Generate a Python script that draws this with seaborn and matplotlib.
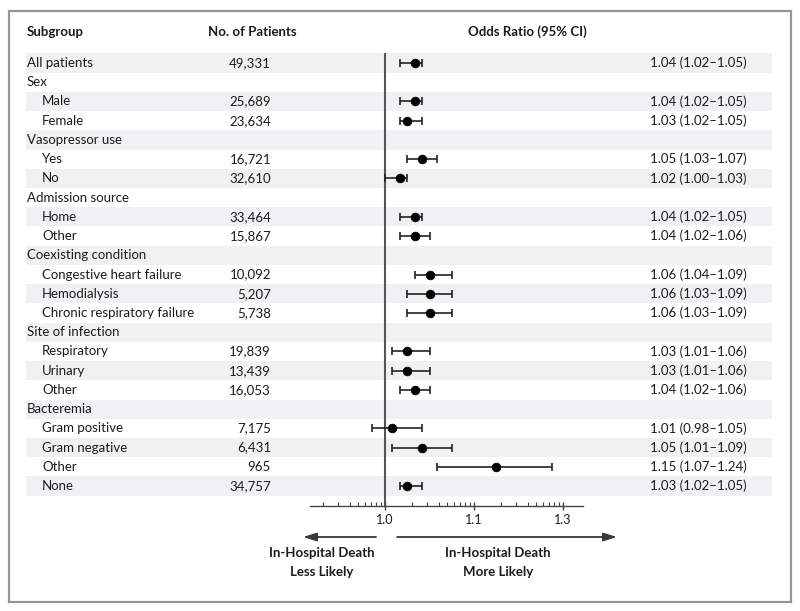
import numpy as np
import pandas as pd
import matplotlib
matplotlib.use("Agg")
import matplotlib.pyplot as plt
from matplotlib.patches import Rectangle
import seaborn as sns

# ---------------- data ----------------
subgroups = ["All patients", "Sex", "Male", "Female", "Vasopressor use", "Yes", "No",
             "Admission source", "Home", "Other", "Coexisting condition",
             "Congestive heart failure", "Hemodialysis", "Chronic respiratory failure",
             "Site of infection", "Respiratory", "Urinary", "Other", "Bacteremia",
             "Gram positive", "Gram negative", "Other", "None"]
indented = [0, 0, 1, 1, 0, 1, 1, 0, 1, 1, 0, 1, 1, 1, 0, 1, 1, 1, 0, 1, 1, 1, 1]
patients = ["49,331", "", "25,689", "23,634", "", "16,721", "32,610", "", "33,464", "15,867",
            "", "10,092", "5,207", "5,738", "", "19,839", "13,439", "16,053", "",
            "7,175", "6,431", "965", "34,757"]
odds = [1.04, None, 1.04, 1.03, None, 1.05, 1.02, None, 1.04, 1.04, None, 1.06, 1.06, 1.06,
        None, 1.03, 1.03, 1.04, None, 1.01, 1.05, 1.15, 1.03]
ci_low = [1.02, None, 1.02, 1.02, None, 1.03, 1.00, None, 1.02, 1.02, None, 1.04, 1.03, 1.03,
          None, 1.01, 1.01, 1.02, None, 0.98, 1.01, 1.07, 1.02]
ci_high = [1.05, None, 1.05, 1.05, None, 1.07, 1.03, None, 1.05, 1.06, None, 1.09, 1.09, 1.09,
           None, 1.06, 1.06, 1.06, None, 1.05, 1.09, 1.24, 1.05]
tick_values = [1.0, 1.1, 1.3]
tick_labels = ["1.0", "1.1", "1.3"]

# ---------------- style ----------------
sns.set_style("white")
plt.rcParams["font.family"] = ["Lato", "DejaVu Sans"]
TXT = "#1e1b1c"
BAND = "#f0f1f3"
FS = 9.5

W, H = 800, 611
fig = plt.figure(figsize=(W / 100, H / 100), dpi=100)

# background axes in pixel units
bg = fig.add_axes([0, 0, 1, 1])
bg.set_xlim(0, W)
bg.set_ylim(H, 0)
bg.axis("off")

ROW0, ROWH = 63.0, 19.23
AX_L, AX_R, AX_B = 310, 583, 506
AX_T = ROW0 - ROWH / 2

n = len(subgroups)
for i in range(n):
    yc = ROW0 + ROWH * i
    if i % 2 == 0:
        bg.add_patch(Rectangle((26, yc - ROWH / 2), 772 - 26, ROWH, facecolor=BAND,
                               edgecolor="none", zorder=0))
    bg.text(42 if indented[i] else 27, yc, subgroups[i], ha="left", va="center",
            fontsize=FS, color=TXT)
    if patients[i]:
        bg.text(271, yc, patients[i], ha="right", va="center", fontsize=FS, color=TXT)
    if odds[i] is not None:
        bg.text(747, yc, f"{odds[i]:.2f} ({ci_low[i]:.2f}\u2013{ci_high[i]:.2f})",
                ha="right", va="center", fontsize=FS, color=TXT)

# headers
bg.text(27, 32, "Subgroup", ha="left", va="center", fontsize=FS, fontweight="bold", color=TXT)
bg.text(252, 32, "No. of Patients", ha="center", va="center", fontsize=FS, fontweight="bold", color=TXT)
bg.text(527, 32, "Odds Ratio (95% CI)", ha="center", va="center", fontsize=FS, fontweight="bold", color=TXT)

# frame
bg.add_patch(Rectangle((8.5, 10.5), 782, 591, facecolor="none", edgecolor="#949494", lw=1.6, zorder=5))

# arrows and labels
arrow_kw = dict(arrowstyle="-|>,head_length=0.8,head_width=0.25", color="#3a3a3a", lw=1.3,
                shrinkA=0, shrinkB=0)
bg.annotate("", xy=(303, 537), xytext=(376, 537), arrowprops=arrow_kw)
bg.annotate("", xy=(617, 537), xytext=(397, 537), arrowprops=arrow_kw)
bg.text(322, 553, "In-Hospital Death", ha="center", va="center", fontsize=FS, fontweight="bold", color=TXT)
bg.text(322, 572, "Less Likely", ha="center", va="center", fontsize=FS, fontweight="bold", color=TXT)
bg.text(498, 553, "In-Hospital Death", ha="center", va="center", fontsize=FS, fontweight="bold", color=TXT)
bg.text(498, 572, "More Likely", ha="center", va="center", fontsize=FS, fontweight="bold", color=TXT)

# ---------------- forest axes ----------------
ax = fig.add_axes([AX_L / W, (H - AX_B) / H, (AX_R - AX_L) / W, (AX_B - AX_T) / H])
ax.patch.set_alpha(0)

# custom axis scale (as drawn in the original figure: 1.0, 1.1, 1.3 equally spaced)
KV = np.array([0.80, 0.90, 0.98, 1.00, 1.09, 1.10, 1.15, 1.24, 1.30, 1.40, 1.60])
KU = np.array([-2.0, -1.0, -0.143, 0.0, 0.758, 1.0, 1.247, 1.876, 2.0, 2.5, 3.5])


def fwd(v):
    return np.interp(np.asarray(v, dtype=float), KV, KU)


def inv(u):
    return np.interp(np.asarray(u, dtype=float), KU, KV)


ax.set_xscale("function", functions=(fwd, inv))
unit = 89.0
ax.set_xlim(float(inv((AX_L - 385) / unit)), float(inv((AX_R - 385) / unit)))
ax.set_ylim((AX_B - ROW0) / ROWH, -0.5)

df = pd.DataFrame({"row": np.arange(n), "or": odds, "lo": ci_low, "hi": ci_high}).dropna()

ax.axvline(1.0, color="#555555", lw=1.5, zorder=1)
ax.errorbar(df["or"], df["row"], xerr=[df["or"] - df["lo"], df["hi"] - df["or"]], fmt="none",
            ecolor="#222222", elinewidth=1.2, capsize=2.6, capthick=1.2, zorder=2)
sns.scatterplot(data=df, x="or", y="row", ax=ax, color="black", s=40, edgecolor="black",
                linewidth=0.5, zorder=3, legend=False)

ax.set_xlabel("")
ax.set_ylabel("")
ax.set_yticks([])
for s in ["left", "top", "right"]:
    ax.spines[s].set_visible(False)
ax.spines["bottom"].set_color("#444444")
ax.spines["bottom"].set_linewidth(1.0)
ax.set_xticks(tick_values)
ax.set_xticklabels(tick_labels, fontsize=FS - 0.5, color=TXT)
minor_u = [m + np.log10(k) for m in (-1, 0, 1) for k in range(2, 10)]
minor_u = [u for u in minor_u if (AX_L - 385) / unit < u < (AX_R - 385) / unit]
ax.set_xticks([float(inv(u)) for u in minor_u], minor=True)
ax.tick_params(axis="x", which="both", bottom=True, top=False)
ax.tick_params(axis="x", which="major", direction="inout", length=6, width=1.0,
               color="#444444", pad=3)
ax.tick_params(axis="x", which="minor", direction="in", length=3, width=0.8, color="#444444")

fig.savefig("out.png", dpi=100)
